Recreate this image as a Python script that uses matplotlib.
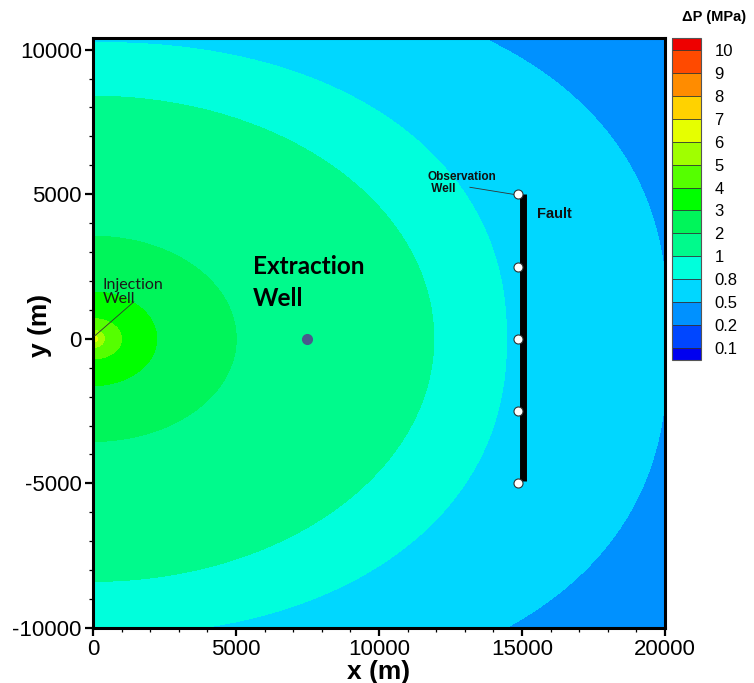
#!/usr/bin/env python
# -*- coding: utf-8 -*-

import numpy as np
import matplotlib
matplotlib.use('Agg')
import matplotlib.pyplot as plt
from matplotlib.colors import ListedColormap, BoundaryNorm
from matplotlib.ticker import MultipleLocator

# pressure change levels (MPa) shown in the legend
levels = [0.1, 0.2, 0.5, 0.8, 1, 2, 3, 4, 5, 6, 7, 8, 9, 10]
level_labels = ['0.1', '0.2', '0.5', '0.8', '1', '2', '3', '4', '5', '6', '7', '8', '9', '10']
band_colors = ['#0046ff', '#0091ff', '#00d7ff', '#00ffdc', '#00fa8c', '#00f55a', '#00ff00',
               '#55ff00', '#a0ff00', '#e6ff00', '#ffd200', '#ff8c00', '#ff4a00']
under_color = '#0000f0'
over_color = '#ee0000'

# contour boundaries: half-width along x, half-height along y (m),
# and shape exponent of each closed curve around the injection well
cont_level = [0.1, 0.2, 0.5, 0.8, 1, 2, 3, 4, 5, 6, 7, 8]
cont_ax = [45000, 32000, 20100, 14460, 11920, 5010, 2230, 1000, 400, 170, 70, 25]
cont_by = [32000, 22000, 12585, 10250, 8390, 3550, 1620, 700, 300, 120, 50, 18]
cont_pw = [2, 2, 2.5, 2.2, 2, 2, 2, 2, 2, 2, 2, 2]

# wells and fault
extraction_well = (7500, 0)
obs_x = 14870
obs_y = [5000, 2500, 0, -2500, -5000]
fault_x = 15050
fault_y = [5000, -4930]


def pressure_field(X, Y):
    R = np.array([((np.abs(X) / a) ** p + (np.abs(Y) / b) ** p) ** (1.0 / p)
                  for a, b, p in zip(cont_ax, cont_by, cont_pw)])
    L = np.array(cont_level)
    n = (R <= 1).sum(axis=0)
    k = np.clip(n - 1, 0, len(L) - 2)
    rk = np.take_along_axis(R, k[None], 0)[0]
    rk1 = np.take_along_axis(R, (k + 1)[None], 0)[0]
    f = (1 - rk) / (rk1 - rk)
    Z = L[k] + (L[k + 1] - L[k]) * f
    Z[n == 0] = 0.05
    Z[n == len(L)] = L[-1] + 0.5
    return Z


def main():
    plt.rcParams['font.family'] = ['Liberation Sans', 'DejaVu Sans']
    plt.rcParams['axes.unicode_minus'] = False

    xg = np.unique(np.concatenate([np.linspace(0, 3000, 700), np.linspace(3000, 20000, 900)]))
    yg = np.unique(np.concatenate([np.linspace(-10400, -3000, 500), np.linspace(-3000, 3000, 900),
                                   np.linspace(3000, 10400, 500)]))
    X, Y = np.meshgrid(xg, yg)
    Z = pressure_field(X, Y)

    cmap = ListedColormap(band_colors)
    cmap.set_under(under_color)
    cmap.set_over(over_color)
    norm = BoundaryNorm(levels, cmap.N)

    fig = plt.figure(figsize=(7.54, 6.83), dpi=100)
    ax = fig.add_axes([0.1233, 0.0805, 0.7586, 0.8638])
    cs = ax.contourf(X, Y, Z, levels=levels, cmap=cmap, norm=norm, extend='both')

    # fault and observation wells
    ax.plot([fault_x, fault_x], fault_y, color='black', lw=5, solid_capstyle='butt', zorder=3)
    ax.plot([obs_x] * len(obs_y), obs_y, 'o', ms=6.5, mfc='white', mec='#333333', mew=0.8, zorder=4)
    ax.plot(*extraction_well, 'o', ms=7, mfc='#4a5a8c', mec='#4a5a8c', zorder=4)

    # labels
    ax.text(5600, 2900, 'Extraction\nWell', fontsize=17.5, fontweight='bold', family='Lato',
            va='top', ha='left', linespacing=1.5)
    ax.text(350, 2100, 'Injection\nWell', fontsize=11.5, family='Lato', color='#1a1a1a',
            va='top', ha='left', linespacing=1.0)
    ax.plot([1430, 60], [1280, 100], color='#333333', lw=0.6, zorder=3)
    ax.text(11710, 5790, 'Observation\n Well', fontsize=8.5, fontweight='bold', color='#111111',
            va='top', ha='left', linespacing=1.0)
    ax.plot([13180, 14800], [5240, 4980], color='#333333', lw=0.6, zorder=3)
    ax.text(15520, 4310, 'Fault', fontsize=10.5, fontweight='bold', color='#111111',
            va='center', ha='left')

    ax.set_xlim(0, 20000)
    ax.set_ylim(-10000, 10400)
    ax.set_xticks([0, 5000, 10000, 15000, 20000])
    ax.set_yticks([-10000, -5000, 0, 5000, 10000])
    ax.xaxis.set_minor_locator(MultipleLocator(1000))
    ax.yaxis.set_minor_locator(MultipleLocator(1000))
    ax.tick_params(which='major', direction='out', length=6, width=1.6, labelsize=16, pad=2)
    ax.tick_params(which='minor', direction='out', length=3, width=0.9)
    for s in ax.spines.values():
        s.set_linewidth(2.2)
    ax.set_xlabel('x (m)', fontsize=19, fontweight='bold', labelpad=0)
    ax.set_ylabel('y (m)', fontsize=19, fontweight='bold')
    ax.yaxis.set_label_coords(-0.072, 0.513)

    # legend bar
    cax = fig.add_axes([0.8906, 0.4729, 0.0385, 0.4714])
    cb = fig.colorbar(cs, cax=cax, extendfrac=0.04, extendrect=True, drawedges=True)
    cb.set_ticks(levels)
    cb.set_ticklabels(level_labels)
    cb.ax.tick_params(length=0, labelsize=12, pad=10)
    cb.outline.set_linewidth(0.8)
    cb.outline.set_edgecolor('#555555')
    cb.dividers.set_color('#333333')
    cb.dividers.set_linewidth(0.6)
    fig.text(714 / 754, 1 - 17 / 683, u'\u0394P (MPa)', fontsize=10.5, fontweight='bold',
             ha='center', va='center')

    plt.savefig('out.png', dpi=100)


if __name__ == '__main__':
    main()
